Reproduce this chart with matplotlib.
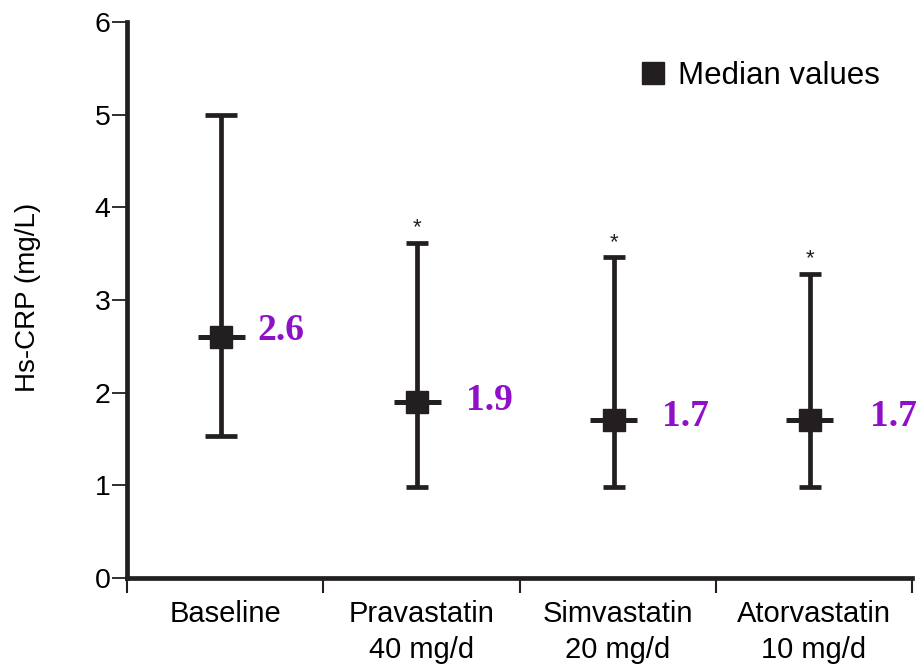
import numpy as np
import matplotlib.pyplot as plt
from matplotlib.lines import Line2D

plt.rcParams['font.family'] = ['Liberation Sans', 'DejaVu Sans']

# Data
groups = ['Baseline', 'Pravastatin\n40 mg/d', 'Simvastatin\n20 mg/d', 'Atorvastatin\n10 mg/d']
medians = [2.6, 1.9, 1.7, 1.7]
upper = [5.0, 3.62, 3.46, 3.28]
lower = [1.53, 0.98, 0.98, 0.98]
median_labels = ['2.6', '1.9', '1.7', '1.7']
significant = [False, True, True, True]

ink = '#231f20'
purple = '#9010c8'

fig = plt.figure(figsize=(9.16, 6.68), dpi=100)
ax = fig.add_axes([0.1387, 0.1347, 0.8569, 0.8323])

x = np.arange(len(groups)) - 0.02
med = np.array(medians)
caps = [11.5, 8, 8, 8]

for xi, m, lo, up, cs in zip(x, medians, lower, upper, caps):
    ax.errorbar([xi], [m], yerr=[[m - lo], [up - m]], fmt='none', ecolor=ink,
                elinewidth=3.4, capsize=cs, capthick=3.4, zorder=2)
# short horizontal bar through each median
ax.errorbar(x, med, xerr=0.12, fmt='none', ecolor=ink, elinewidth=3.6,
            capsize=0, zorder=3)
ax.plot(x, med, 's', color=ink, markersize=15.5, zorder=4)

offsets = [0.185, 0.245, 0.245, 0.305]
dy = [0.07, 0.02, 0.04, 0.04]
for xi, m, lab, off, d in zip(x, medians, median_labels, offsets, dy):
    ax.text(xi + off, m + d, lab, color=purple, fontsize=27, fontweight='bold',
            family='Liberation Serif', ha='left', va='center')

for xi, up, sig in zip(x, upper, significant):
    if sig:
        ax.text(xi, up + 0.05, '*', ha='center', va='bottom', fontsize=16, color=ink)

ax.set_xlim(-0.5, 3.5)
ax.set_ylim(0, 6)
ax.set_yticks(range(0, 7))
ax.set_xticks([-0.5, 0.5, 1.5, 2.5, 3.5])
ax.set_xticklabels([])
ax.set_xticks(np.arange(len(groups)), minor=True)
ax.set_xticklabels(groups, minor=True, fontsize=21, linespacing=1.35)
ax.tick_params(axis='x', which='minor', length=0, pad=16)
ax.tick_params(axis='x', which='major', length=11, width=1.5, color=ink, direction='out')
ax.tick_params(axis='y', length=11, width=1.3, color=ink, labelsize=20.5, pad=1)

for s in ['top', 'right']:
    ax.spines[s].set_visible(False)
for s in ['left', 'bottom']:
    ax.spines[s].set_linewidth(3.4)
    ax.spines[s].set_color(ink)

ax.set_ylabel('Hs-CRP (mg/L)', fontsize=20)
ax.yaxis.set_label_coords(-0.11, 0.504)

handle = Line2D([], [], marker='s', linestyle='none', color=ink, markersize=15.5)
ax.legend([handle], ['Median values'], loc='upper right', bbox_to_anchor=(0.995, 0.98),
          frameon=False, fontsize=22.5, handletextpad=0.35, handlelength=0.9)

fig.savefig('out.png', dpi=100)
